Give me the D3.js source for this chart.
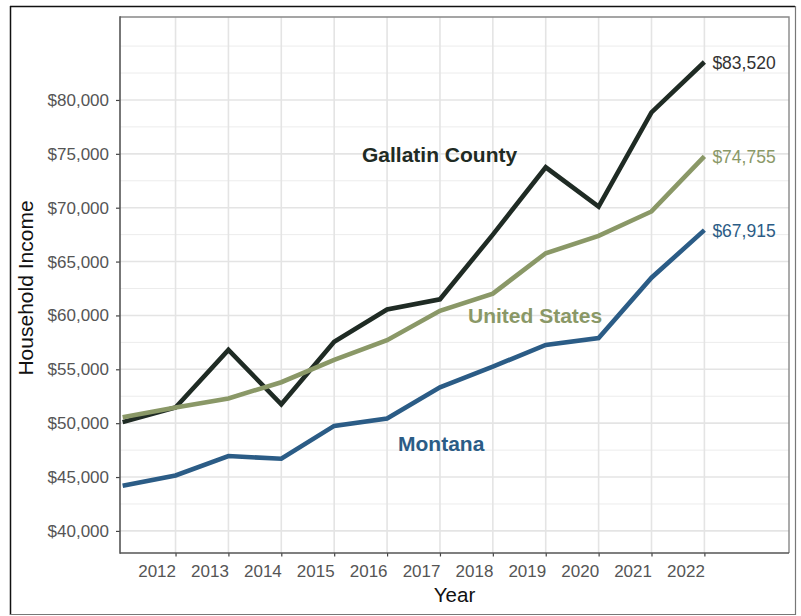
<!DOCTYPE html>
<html>
<head>
<meta charset="utf-8">
<script src="https://cdn.jsdelivr.net/npm/d3@7"></script>
<style>
  html, body { margin: 0; padding: 0; background: #fff; }
  svg { display: block; font-family: "Liberation Sans", Arial, sans-serif; }
</style>
</head>
<body>
<svg id="chart" width="801" height="616"></svg>
<script>
// Median household income, 2011–2022
const years = [2011, 2012, 2013, 2014, 2015, 2016, 2017, 2018, 2019, 2020, 2021, 2022];
const gallatin = [50100, 51450, 56800, 51750, 57550, 60550, 61500, 67500, 73750, 70100, 78850, 83520];
const unitedStates = [50550, 51450, 52300, 53800, 55870, 57700, 60430, 62030, 65770, 67380, 69650, 74755];
const montana = [44200, 45150, 46950, 46700, 49750, 50430, 53330, 55250, 57260, 57900, 63500, 67915];

const yTickValues = [40000, 45000, 50000, 55000, 60000, 65000, 70000, 75000, 80000];
const yMinorValues = [42500, 47500, 52500, 57500, 62500, 67500, 72500, 77500, 82500, 85000];
const xTickValues = [2012, 2013, 2014, 2015, 2016, 2017, 2018, 2019, 2020, 2021, 2022];

const seriesNames = ["Gallatin County", "United States", "Montana"];
const seriesColors = ["#1f2b24", "#8a9867", "#2b5c86"];

const series = [
  { name: seriesNames[0], values: gallatin, color: seriesColors[0], lx: 362, ly: 162 },
  { name: seriesNames[1], values: unitedStates, color: seriesColors[1], lx: 468, ly: 323 },
  { name: seriesNames[2], values: montana, color: seriesColors[2], lx: 398, ly: 451 }
];

const svg = d3.select("#chart");
const panel = { left: 120, right: 789, top: 17, bottom: 553 };

const x = d3.scaleLinear().domain([2010.95, 2023.6]).range([panel.left, panel.right]);
const y = d3.scaleLinear().domain([37950, 87700]).range([panel.bottom, panel.top]);

// outer frame
svg.append("line").attr("x1", 10).attr("x2", 795).attr("y1", 6.5).attr("y2", 6.5).attr("stroke", "#111").attr("stroke-width", 1.5);
svg.append("line").attr("x1", 10.5).attr("x2", 10.5).attr("y1", 6).attr("y2", 615).attr("stroke", "#111").attr("stroke-width", 1.5);
svg.append("line").attr("x1", 795.5).attr("x2", 795.5).attr("y1", 6).attr("y2", 615).attr("stroke", "#777").attr("stroke-width", 1.2);
svg.append("line").attr("x1", 10).attr("x2", 796).attr("y1", 614.5).attr("y2", 614.5).attr("stroke", "#777").attr("stroke-width", 1.2);

// grid
const grid = svg.append("g");
grid.selectAll(".minor").data(yMinorValues).join("line")
  .attr("x1", panel.left).attr("x2", panel.right)
  .attr("y1", d => y(d)).attr("y2", d => y(d))
  .attr("stroke", "#ececec").attr("stroke-width", 1);
grid.selectAll(".major").data(yTickValues).join("line")
  .attr("x1", panel.left).attr("x2", panel.right)
  .attr("y1", d => y(d)).attr("y2", d => y(d))
  .attr("stroke", "#e4e4e4").attr("stroke-width", 1.6);
grid.selectAll(".vx").data(xTickValues).join("line")
  .attr("x1", d => x(d)).attr("x2", d => x(d))
  .attr("y1", panel.top).attr("y2", panel.bottom)
  .attr("stroke", "#e4e4e4").attr("stroke-width", 1.6);

// panel border (top, right)
svg.append("path")
  .attr("d", `M${panel.left},${panel.top}H${panel.right}V${panel.bottom}`)
  .attr("fill", "none").attr("stroke", "#888").attr("stroke-width", 1.4);

// axes
const yAxis = d3.axisLeft(y).tickValues(yTickValues).tickSize(4).tickPadding(7)
  .tickFormat(d => "$" + d3.format(",")(d));
const gy = svg.append("g").attr("transform", `translate(${panel.left},0)`).call(yAxis);
gy.select(".domain").remove();
gy.selectAll(".tick line").attr("stroke", "#444").attr("stroke-width", 1.2);
gy.selectAll(".tick text").attr("fill", "#555").style("font-size", "17px")
  .style("font-family", "'Liberation Sans', Arial, sans-serif");

const xAxis = d3.axisBottom(x).tickValues(xTickValues).tickSize(3.5).tickPadding(6)
  .tickFormat(d3.format("d"));
const gx = svg.append("g").attr("transform", `translate(0,${panel.bottom})`).call(xAxis);
gx.select(".domain").remove();
gx.selectAll(".tick line").attr("stroke", "#444").attr("stroke-width", 1.2);
gx.selectAll(".tick text").attr("fill", "#555").style("font-size", "17px")
  .style("font-family", "'Liberation Sans', Arial, sans-serif")
  .attr("text-anchor", "end").attr("x", 0).attr("dy", null).attr("y", 24);

svg.append("line").attr("x1", panel.left).attr("x2", panel.left)
  .attr("y1", panel.top - 0.7).attr("y2", panel.bottom + 0.7).attr("stroke", "#555").attr("stroke-width", 1.6);
svg.append("line").attr("x1", panel.left).attr("x2", panel.right)
  .attr("y1", panel.bottom).attr("y2", panel.bottom).attr("stroke", "#555").attr("stroke-width", 1.6);

// axis titles
svg.append("text").attr("x", (panel.left + panel.right) / 2).attr("y", 602)
  .attr("text-anchor", "middle").attr("fill", "#111").style("font-size", "20.5px").text("Year");
svg.append("text").attr("transform", "translate(33,288) rotate(-90)")
  .attr("text-anchor", "middle").attr("fill", "#111").style("font-size", "21px").text("Household Income");

// lines
svg.append("clipPath").attr("id", "clip").append("rect")
  .attr("x", panel.left).attr("y", panel.top)
  .attr("width", panel.right - panel.left).attr("height", panel.bottom - panel.top);

const line = d3.line().x((d, i) => x(years[i])).y(d => y(d));
const lines = svg.append("g").attr("clip-path", "url(#clip)");
lines.selectAll("path").data(series).join("path")
  .attr("d", s => line(s.values))
  .attr("fill", "none")
  .attr("stroke", s => s.color)
  .attr("stroke-width", 4.6)
  .attr("stroke-linejoin", "miter")
  .attr("stroke-miterlimit", 4);

// series names
svg.selectAll(".series-name").data(series).join("text")
  .attr("x", s => s.lx).attr("y", s => s.ly)
  .attr("fill", s => s.color)
  .style("font-size", "21px").style("font-weight", "bold")
  .text(s => s.name);

// end-of-line values
const last = years.length - 1;
svg.selectAll(".end-value").data(series).join("text")
  .attr("x", x(years[last]) + 8)
  .attr("y", s => y(s.values[last]) + 6.5)
  .attr("fill", s => s === series[0] ? "#333" : s.color)
  .style("font-size", "17.5px")
  .text(s => "$" + d3.format(",")(s.values[last]));
</script>
</body>
</html>
